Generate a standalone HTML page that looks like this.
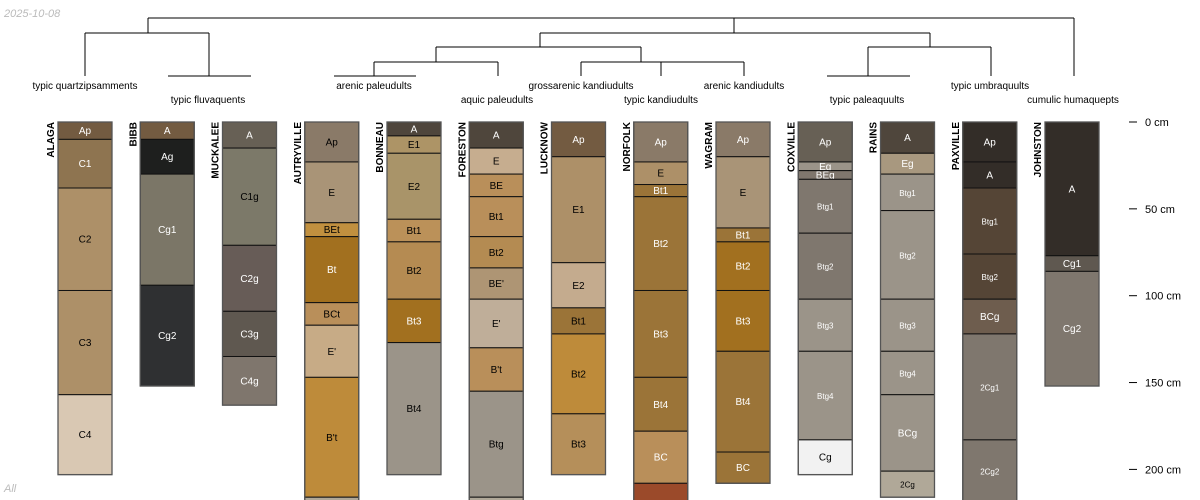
<!DOCTYPE html>
<html><head><meta charset="utf-8"><style>
html,body{margin:0;padding:0;background:#fff;}
svg{display:block;font-family:"Liberation Sans",sans-serif;}
</style></head><body>
<svg id="chart" width="1200" height="500" viewBox="0 0 1200 500" xmlns="http://www.w3.org/2000/svg">
<text x="4" y="17" font-size="11" font-style="italic" fill="#bbb">2025-10-08</text>
<text x="4" y="492" font-size="11" font-style="italic" fill="#bbb">All</text>
<g id="dendro" stroke="#000" stroke-width="1" fill="none">
<path d="M148 18H1074M148 18V33M734 18V33M1074 18V76"/>
<path d="M85 33H209M85 33V76M209 33V76M168 76H251"/>
<path d="M540 33H930M540 33V47M930 33V47"/>
<path d="M436 47H641M436 47V62M641 47V62"/>
<path d="M374 62H498M374 62V76M498 62V76M334 76H416"/>
<path d="M581 62H744M581 62V76M661 62V76M744 62V76"/>
<path d="M868 47H991M868 47V76M991 47V76M827 76H910"/>
</g>
<g id="taxa" font-size="10" fill="#000" text-anchor="middle"></g>
<g id="profiles"></g>
<g id="axis"></g>
</svg>
<script>
const profileNames=["ALAGA","BIBB","MUCKALEE","AUTRYVILLE","BONNEAU","FORESTON","LUCKNOW","NORFOLK","WAGRAM","COXVILLE","RAINS","PAXVILLE","JOHNSTON"];
const taxaNames=["typic quartzipsamments","typic fluvaquents","arenic paleudults","aquic paleudults","grossarenic kandiudults","typic kandiudults","arenic kandiudults","typic paleaquults","typic umbraquults","cumulic humaquepts"];
const taxaCenters=[85,208,374,497,581,661,744,867,990,1073];
const horizonNames=[
["Ap","C1","C2","C3","C4"],
["A","Ag","Cg1","Cg2"],
["A","C1g","C2g","C3g","C4g"],
["Ap","E","BEt","Bt","BCt","E'","B't","C"],
["A","E1","E2","Bt1","Bt2","Bt3","Bt4"],
["A","E","BE","Bt1","Bt2","BE'","E'","B't","Btg","C"],
["Ap","E1","E2","Bt1","Bt2","Bt3"],
["Ap","E","Bt1","Bt2","Bt3","Bt4","BC","C"],
["Ap","E","Bt1","Bt2","Bt3","Bt4","BC"],
["Ap","Eg","BEg","Btg1","Btg2","Btg3","Btg4","Cg"],
["A","Eg","Btg1","Btg2","Btg3","Btg4","BCg","2Cg"],
["Ap","A","Btg1","Btg2","BCg","2Cg1","2Cg2"],
["A","Cg1","Cg2"]];
const horizonDepths=[
[0,10,38,97,157,203],
[0,10,30,94,152],
[0,15,71,109,135,163],
[0,23,58,66,104,117,147,216,240],
[0,8,18,56,69,102,127,203],
[0,15,30,43,66,84,102,130,155,216,240],
[0,20,81,107,122,168,203],
[0,23,36,43,97,147,178,208,240],
[0,20,61,69,97,132,190,208],
[0,23,28,33,64,102,132,183,203],
[0,18,30,51,102,132,157,201,216],
[0,23,38,76,102,122,183,240],
[0,77,86,152]];
const horizonColors=[
["#735b41","#8e7450","#ad9068","#ad9068","#d9c8b3"],
["#735b41","#1e1f1e","#7b7667","#2f3032"],
["#676055","#7c7969","#675c57","#5f5850","#7f766d"],
["#8a7a68","#a99477","#c1903f","#a2701f","#b98f5a","#c7ab86","#be8b3a","#b0a898"],
["#4f463c","#ad9466","#a99469","#bb9159","#b58b52","#a2701f","#9b9489"],
["#4f463c","#c6ad8f","#b98f5a","#b98f5a","#b48b52","#ae9574","#bfae99","#b98f5a","#9b9489","#b0a898"],
["#735b41","#ad9068","#c4ab8e","#9b7438","#be8b3a","#b58f5a"],
["#8a7a68","#ad9068","#9b7438","#9b7438","#9b7438","#9b7438","#b98f5a","#9b4a2a"],
["#8a7a68","#a99477","#9b7438","#a2701f","#a2701f","#9b7438","#9b7438"],
["#676055","#9b9489","#7f766d","#7f776e","#7f776e","#9b9489","#9b9489","#f2f2f2"],
["#4f463c","#a8987f","#9b9489","#9b9489","#9b9489","#9b9489","#9b9489","#b0a898"],
["#332d28","#332d28","#554536","#554536","#6e5d4e","#7f776e","#7f776e"],
["#332d28","#5f5850","#7f776e"]];
const depthTicks=[0,50,100,150,200];
const tickLabels=["0 cm","50 cm","100 cm","150 cm","200 cm"];

const NS="http://www.w3.org/2000/svg";
const yTop=122, pxPerCm=1.737, colW=54, firstCenter=85, spacing=82.25;
function yScale(d){return yTop+d*pxPerCm;}
function xCenter(i){return firstCenter+i*spacing;}
function mk(tag,attrs,parent){const e=document.createElementNS(NS,tag);for(const k in attrs)e.setAttribute(k,attrs[k]);parent.appendChild(e);return e;}
function lum(hex){const r=parseInt(hex.substr(1,2),16),g=parseInt(hex.substr(3,2),16),b=parseInt(hex.substr(5,2),16);return 0.299*r+0.587*g+0.114*b;}

const taxaG=document.getElementById('taxa');
taxaNames.forEach((t,i)=>{
  const e=mk('text',{x:taxaCenters[i],y:i%2===0?89:103},taxaG);
  
  
  e.textContent=t;
});

const pg=document.getElementById('profiles');
profileNames.forEach((name,i)=>{
  const g=mk('g',{},pg);
  
  
  const cx=xCenter(i), x0=cx-colW/2;
  const depths=horizonDepths[i];
  for(let h=0;h<horizonNames[i].length;h++){
    const y1=yScale(depths[h]), y2=Math.min(yScale(depths[h+1]),502);
    const r=mk('rect',{x:x0,y:y1,width:colW,height:y2-y1,fill:horizonColors[i][h],stroke:'#111','stroke-width':1},g);
    
    
    if(y2-y1>7 && (y1+y2)/2<488){
      const nm=horizonNames[i][h];
      const small=/^Btg|^2Cg/.test(nm)&&i>=9;
      const t=mk('text',{x:cx,y:(y1+y2)/2+3.5,'text-anchor':'middle','font-size':small?8:10,fill:lum(horizonColors[i][h])<120||(i>=7&&lum(horizonColors[i][h])<170&&nm!=='E'&&nm!=='Cg'&&nm!=='2Cg')?'#fff':'#000'},g);
      
      
      t.textContent=nm;
    }
  }
  const yb=Math.min(yScale(depths[depths.length-1]),502);
  const o=mk('rect',{x:x0,y:yTop,width:colW,height:yb-yTop,fill:'none',stroke:'#555','stroke-width':1.3},g);
  
  
  const lbl=mk('text',{x:0,y:0,'font-size':10,'font-weight':'bold','text-anchor':'end',transform:'translate('+(x0-4)+','+yTop+') rotate(-90)'},g);
  
  
  lbl.textContent=name;
});

const ag=document.getElementById('axis');


depthTicks.forEach((d,i)=>{
  const y=yScale(d);
  const l=mk('line',{x1:1129,x2:1137,y1:y,y2:y,stroke:'#000','stroke-width':1},ag);
  
  
  const t=mk('text',{x:1145,y:y+4,'font-size':11},ag);
  
  
  t.textContent=tickLabels[i];
});
</script>
</body></html>
